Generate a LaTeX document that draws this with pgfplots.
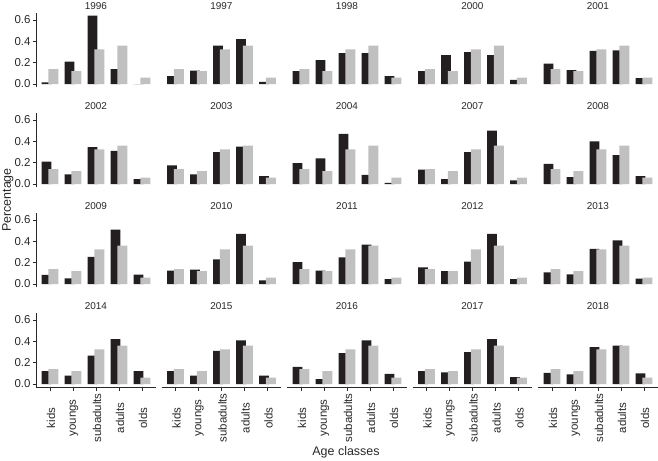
\documentclass[border=0pt]{standalone}
\usepackage{pgfplots}
\pgfplotsset{compat=1.18}
\usepackage{fontspec}
\setmainfont{Liberation Sans}
\definecolor{obs}{RGB}{35,31,32}
\definecolor{expc}{RGB}{192,192,192}
\definecolor{axc}{RGB}{40,40,40}
\pgfplotsset{
  panel/.style={
    scale only axis, width=119.5bp, height=74bp,
    anchor=south west,
    xmin=0.4, xmax=5.6, ymin=-0.0315, ymax=0.6615,
    separate axis lines,
    axis x line*=bottom, axis y line*=left,
    axis line style={axc, line width=0.9pt},
    tick style={axc, line width=0.8pt},
    tick align=outside, major tick length=3.5bp,
    xtick={1,2,3,4,5},
    xticklabels={kids,youngs,subadults,adults,olds},
    ytick={0,0.2,0.4,0.6},
    yticklabel style={/pgf/number format/fixed, /pgf/number format/fixed zerofill, /pgf/number format/precision=1, /pgf/number format/assume math mode=true, inner sep=2bp},
    every tick label/.append style={font=\fontsize{11.5}{12}\selectfont, text=axc},
    xticklabel style={yshift=-27bp, xshift=1bp, rotate=90, anchor=center},
    title style={at={(0.5,1)}, anchor=south, yshift=-5.5bp, font=\fontsize{10}{11}\selectfont, text=axc},
    clip=false,
  },
  nox/.style={x axis line style={draw=none}, xtick=\empty},
  noy/.style={y axis line style={draw=none}, ytick=\empty},
}
\newcommand{\panel}[5]{%
\begin{axis}[panel, at={(#1bp,-#2bp)}, title={#3}, #5]
\addplot[ybar, bar width=0.43, bar shift=-0.15, fill=obs, draw=none] coordinates {#4};
\addplot[ybar, bar width=0.43, bar shift=0.15, fill=expc, draw=none] coordinates {(1,0.14)(2,0.12)(3,0.325)(4,0.36)(5,0.06)};
\end{axis}}
\begin{document}
\begin{tikzpicture}
\useasboundingbox (0,0) rectangle (658bp,-461bp);
% row 1
\panel{36.2}{87.4}{1996}{(1,0.015)(2,0.21)(3,0.64)(4,0.14)(5,0)}{nox}
\panel{161.7}{87.4}{1997}{(1,0.075)(2,0.125)(3,0.36)(4,0.42)(5,0.02)}{nox,noy}
\panel{287.2}{87.4}{1998}{(1,0.12)(2,0.225)(3,0.29)(4,0.29)(5,0.075)}{nox,noy}
\panel{412.7}{87.4}{2000}{(1,0.12)(2,0.27)(3,0.30)(4,0.27)(5,0.04)}{nox,noy}
\panel{538.2}{87.4}{2001}{(1,0.19)(2,0.13)(3,0.31)(4,0.315)(5,0.055)}{nox,noy}
% row 2
\panel{36.2}{187.4}{2002}{(1,0.21)(2,0.09)(3,0.345)(4,0.31)(5,0.047)}{nox}
\panel{161.7}{187.4}{2003}{(1,0.175)(2,0.09)(3,0.30)(4,0.35)(5,0.075)}{nox,noy}
\panel{287.2}{187.4}{2004}{(1,0.195)(2,0.24)(3,0.47)(4,0.085)(5,0.012)}{nox,noy}
\panel{412.7}{187.4}{2007}{(1,0.135)(2,0.045)(3,0.30)(4,0.50)(5,0.035)}{nox,noy}
\panel{538.2}{187.4}{2008}{(1,0.19)(2,0.065)(3,0.40)(4,0.27)(5,0.075)}{nox,noy}
% row 3
\panel{36.2}{287.4}{2009}{(1,0.085)(2,0.053)(3,0.255)(4,0.51)(5,0.088)}{nox}
\panel{161.7}{287.4}{2010}{(1,0.125)(2,0.135)(3,0.23)(4,0.47)(5,0.035)}{nox,noy}
\panel{287.2}{287.4}{2011}{(1,0.205)(2,0.125)(3,0.25)(4,0.37)(5,0.045)}{nox,noy}
\panel{412.7}{287.4}{2012}{(1,0.155)(2,0.12)(3,0.21)(4,0.47)(5,0.047)}{nox,noy}
\panel{538.2}{287.4}{2013}{(1,0.11)(2,0.09)(3,0.33)(4,0.41)(5,0.05)}{nox,noy}
% row 4
\panel{36.2}{387.4}{2014}{(1,0.12)(2,0.08)(3,0.265)(4,0.42)(5,0.12)}{}
\panel{161.7}{387.4}{2015}{(1,0.12)(2,0.08)(3,0.31)(4,0.41)(5,0.08)}{noy}
\panel{287.2}{387.4}{2016}{(1,0.16)(2,0.047)(3,0.29)(4,0.41)(5,0.095)}{noy}
\panel{412.7}{387.4}{2017}{(1,0.12)(2,0.11)(3,0.30)(4,0.42)(5,0.065)}{noy}
\panel{538.2}{387.4}{2018}{(1,0.105)(2,0.09)(3,0.345)(4,0.36)(5,0.10)}{noy}
\node[rotate=90, font=\fontsize{12.5}{13}\selectfont, text=axc] at (8bp,-200bp) {Percentage};
\node[font=\fontsize{12.5}{13}\selectfont, text=axc] at (346bp,-452bp) {Age classes};
\end{tikzpicture}
\end{document}
